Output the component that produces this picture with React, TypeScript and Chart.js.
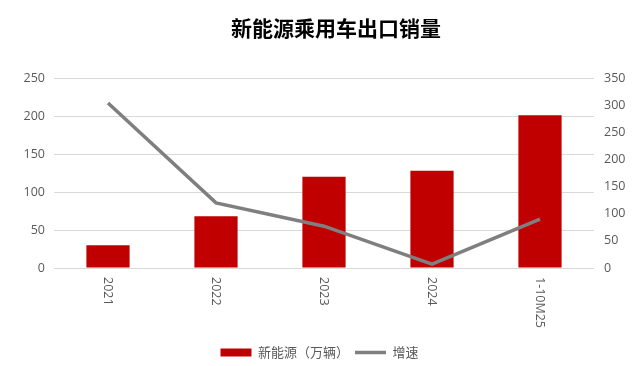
import React, { useEffect, useRef } from "react";
import { Chart, registerables } from "chart.js";

Chart.register(...registerables);

const TITLE = "新能源乘用车出口销量";
const categories = ["2021", "2022", "2023", "2024", "1-10M25"];
const salesLabel = "新能源（万辆）";
const salesValues = [30, 68, 120, 128, 201];
const growthLabel = "增速";
const growthValues = [304, 120, 77, 7, 90];
const leftMax = 250;
const rightMax = 350;
const tickStep = 50;

const TICK_FONT = '"Open Sans", "Noto Sans CJK SC", sans-serif';
const GREY_TEXT = "#595959";

export default function App() {
  const ref = useRef<HTMLCanvasElement | null>(null);

  useEffect(() => {
    if (!ref.current) return;

    const customText = {
      id: "customText",
      afterDraw(chart: any) {
        const ctx = chart.ctx;
        const area = chart.chartArea;
        // title
        ctx.save();
        ctx.fillStyle = "#000000";
        ctx.font = 'bold 21px "Noto Sans CJK SC", sans-serif';
        ctx.textAlign = "center";
        ctx.textBaseline = "middle";
        ctx.fillText(TITLE, (area.left + area.right) / 2 + 12, 20);
        ctx.restore();
        // x labels, rotated clockwise
        const xs = chart.scales.x;
        ctx.save();
        ctx.fillStyle = GREY_TEXT;
        ctx.font = "12.5px " + TICK_FONT;
        ctx.textAlign = "left";
        ctx.textBaseline = "middle";
        categories.forEach((lab, i) => {
          const px = xs.getPixelForTick(i);
          ctx.save();
          ctx.translate(px, area.bottom + 9);
          ctx.rotate(Math.PI / 2);
          ctx.fillText(lab, 0, 0);
          ctx.restore();
        });
        ctx.restore();
      },
    };

    const chart = new Chart(ref.current, {
      type: "bar",
      data: {
        labels: categories,
        datasets: [
          {
            type: "bar",
            label: salesLabel,
            data: salesValues,
            backgroundColor: "#C00000",
            borderWidth: 0,
            barPercentage: 0.4,
            categoryPercentage: 1,
            yAxisID: "y",
            order: 2,
            pointStyle: "rect",
          } as any,
          {
            type: "line",
            label: growthLabel,
            data: growthValues,
            borderColor: "#7F7F7F",
            backgroundColor: "#7F7F7F",
            borderWidth: 3.5,
            pointRadius: 0,
            tension: 0,
            yAxisID: "y1",
            order: 1,
            pointStyle: "line",
          } as any,
        ],
      },
      options: {
        animation: false,
        responsive: true,
        maintainAspectRatio: false,
        layout: { padding: { top: 70, left: 0, right: 0, bottom: 0 } },
        plugins: {
          title: { display: false },
          tooltip: { enabled: false },
          legend: {
            position: "bottom",
            labels: {
              usePointStyle: true,
              pointStyleWidth: 31,
              boxHeight: 8,
              padding: 6,
              color: GREY_TEXT,
              font: { size: 13, family: '"Noto Sans CJK SC", sans-serif' },
              sort: (a: any, b: any) => a.datasetIndex - b.datasetIndex,
            },
          },
        },
        scales: {
          x: {
            grid: { display: false },
            border: { display: false },
            ticks: { display: false },
            afterFit(scale: any) {
              scale.height = 72;
            },
          },
          y: {
            position: "left",
            min: 0,
            max: leftMax,
            ticks: {
              stepSize: tickStep,
              color: GREY_TEXT,
              padding: 9,
              font: { size: 12.5, family: TICK_FONT },
            },
            grid: { color: "#D9D9D9", drawTicks: false, lineWidth: 1 },
            border: { display: false },
            afterFit(scale: any) {
              scale.width = 46;
            },
          },
          y1: {
            position: "right",
            min: 0,
            max: rightMax,
            ticks: {
              stepSize: tickStep,
              color: GREY_TEXT,
              padding: 10,
              font: { size: 12.5, family: TICK_FONT },
            },
            grid: { display: false, drawTicks: false },
            border: { display: false },
            afterFit(scale: any) {
              scale.width = 37;
            },
          },
        },
      },
      plugins: [customText],
    });

    return () => chart.destroy();
  }, []);

  return (
    <div style={{ width: "623px", height: "361px", position: "relative" }}>
      <canvas ref={ref} />
    </div>
  );
}
